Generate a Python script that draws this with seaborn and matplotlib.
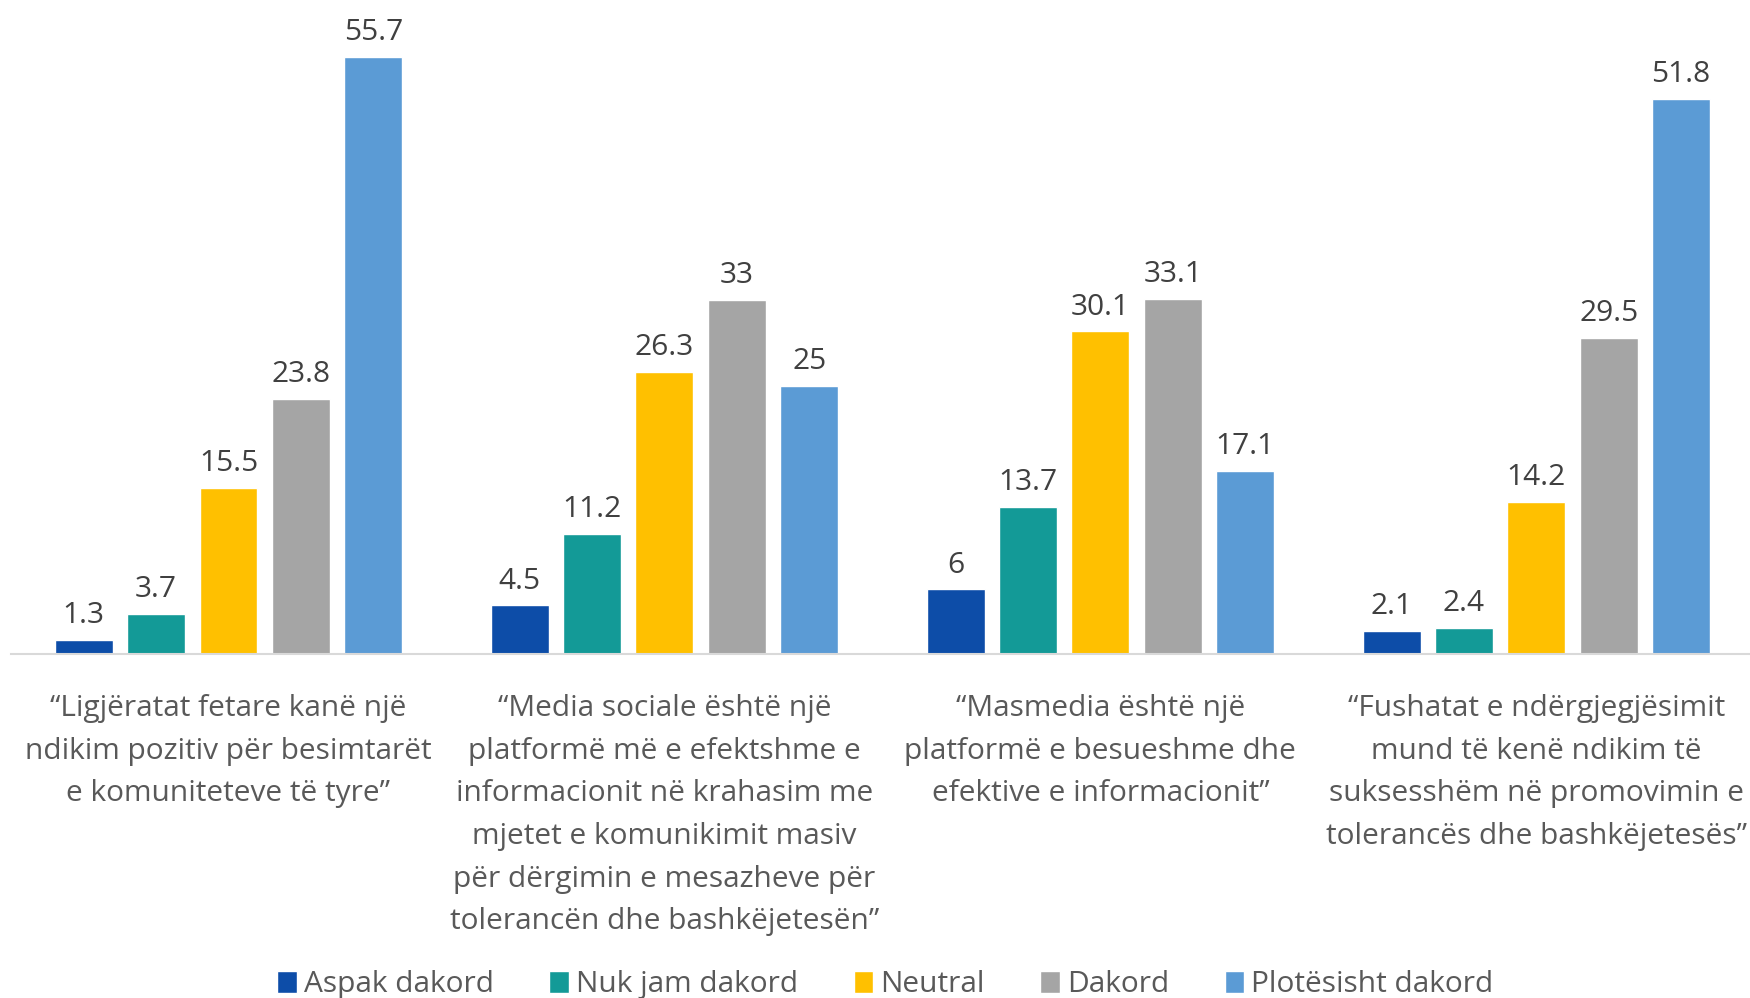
import pandas as pd
import matplotlib
matplotlib.use('Agg')
import matplotlib.pyplot as plt
import seaborn as sns

categories = [
    '\u201cLigjëratat fetare kanë një\nndikim pozitiv për besimtarët\ne komuniteteve të tyre\u201d',
    '\u201cMedia sociale është një\nplatformë më e efektshme e\ninformacionit në krahasim me\nmjetet e komunikimit masiv\npër dërgimin e mesazheve për\ntolerancën dhe bashkëjetesën\u201d',
    '\u201cMasmedia është një\nplatformë e besueshme dhe\nefektive e informacionit\u201d',
    '\u201cFushatat e ndërgjegjësimit\nmund të kenë ndikim të\nsuksesshëm në promovimin e\ntolerancës dhe bashkëjetesës\u201d',
]
series = ['Aspak dakord', 'Nuk jam dakord', 'Neutral', 'Dakord', 'Plotësisht dakord']
aspak = [1.3, 4.5, 6, 2.1]
nuk_jam = [3.7, 11.2, 13.7, 2.4]
neutral = [15.5, 26.3, 30.1, 14.2]
dakord = [23.8, 33, 33.1, 29.5]
plotesisht = [55.7, 25, 17.1, 51.8]
colors = ['#0D4DA8', '#139A97', '#FFC000', '#A5A5A5', '#5B9BD5']

rows = []
for s, vals in zip(series, [aspak, nuk_jam, neutral, dakord, plotesisht]):
    for c, v in zip(categories, vals):
        rows.append({'category': c, 'series': s, 'value': v})
df = pd.DataFrame(rows)

sns.set_theme(style='white')
plt.rcParams['font.family'] = ['Open Sans', 'DejaVu Sans']
text_color = '#595959'

fig = plt.figure(figsize=(17.5, 9.98), dpi=100)
ax = fig.add_axes([0.006, 0.345, 0.994, 0.644])
sns.barplot(data=df, x='category', y='value', hue='series', palette=colors,
            width=0.83, gap=0.2, ax=ax, legend=True, saturation=1)

for cont in ax.containers:
    ax.bar_label(cont, fmt='%g', padding=7, fontsize=21.5, color='#404040')

ax.set_ylim(0, 60)
ax.set_xlim(-0.5, 3.49)
ax.set_xlabel('')
ax.set_ylabel('')
ax.set_yticks([])
for side in ['left', 'right', 'top']:
    ax.spines[side].set_visible(False)
ax.spines['bottom'].set_color('#D9D9D9')
ax.spines['bottom'].set_linewidth(1.5)
ax.tick_params(axis='x', length=0, pad=29, labelsize=21.5, labelcolor=text_color)
for lbl in ax.get_xticklabels():
    lbl.set_linespacing(1.62)

handles, labels = ax.get_legend_handles_labels()
ax.get_legend().remove()
fig.legend(handles, labels, loc='lower center', bbox_to_anchor=(0.506, -0.028), ncol=5,
           frameon=False, fontsize=21.5, labelcolor=text_color, handlelength=0.65,
           handleheight=0.75, handletextpad=0.25, columnspacing=1.85)

fig.savefig('out.png', dpi=100)
